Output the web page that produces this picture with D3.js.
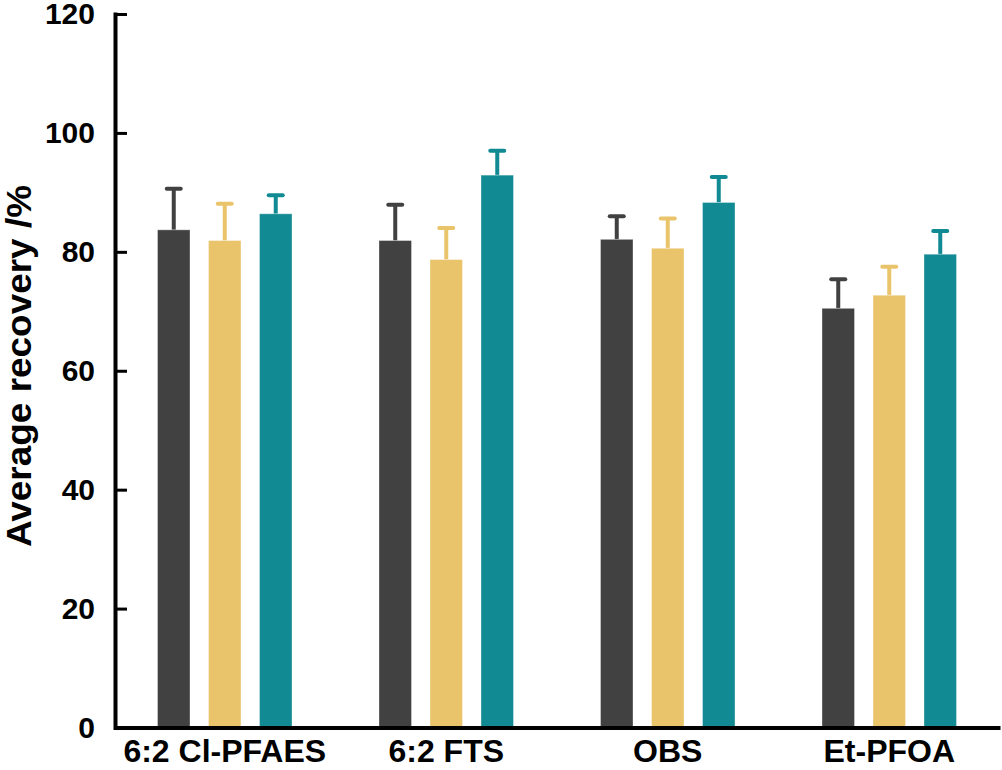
<!DOCTYPE html>
<html>
<head>
<meta charset="utf-8">
<script src="https://cdn.jsdelivr.net/npm/d3@7"></script>
<style>
  body { margin: 0; background: #fff; }
  text { font-family: "Liberation Sans", Arial, sans-serif; font-weight: bold; fill: #000; }
</style>
</head>
<body>
<div id="chart"></div>
<script>
const width = 1002;
const height = 770;

const compounds = ["6:2 Cl-PFAES", "6:2 FTS", "OBS", "Et-PFOA"];
const seriesNames = ["A", "B", "C"];
const seriesColors = ["#414141", "#E9C46B", "#118A93"];

// mean recovery per compound, one array per series
const meanA = [83.7, 81.9, 82.1, 70.5];
const meanB = [81.9, 78.7, 80.6, 72.7];
const meanC = [86.4, 92.9, 88.3, 79.6];
// error (upper) per compound
const errA = [6.9, 6.0, 3.9, 4.9];
const errB = [6.2, 5.3, 5.0, 4.8];
const errC = [3.1, 4.1, 4.3, 3.9];

const yTicks = [0, 20, 40, 60, 80, 100, 120];

const means = [meanA, meanB, meanC];
const errs = [errA, errB, errC];

const svg = d3
  .select("#chart")
  .append("svg")
  .attr("width", width)
  .attr("height", height);

const x = d3.scaleBand().domain(compounds).range([114, 1000]).padding(0);
const y = d3.scaleLinear().domain([0, 120]).range([727.5, 14]);

const barW = 32.5;
const barGap = 51;

// flatten for drawing
const bars = [];
compounds.forEach((c, i) => {
  seriesNames.forEach((s, j) => {
    bars.push({ compound: c, series: j, value: means[j][i], err: errs[j][i] });
  });
});

const barX = (d) => x(d.compound) + x.bandwidth() / 2 + (d.series - 1) * barGap;

// error bars (behind the bars)
const eb = svg.append("g").attr("class", "errors");
eb.selectAll("line.stem")
  .data(bars)
  .enter()
  .append("line")
  .attr("x1", barX)
  .attr("x2", barX)
  .attr("y1", (d) => y(d.value))
  .attr("y2", (d) => y(d.value + d.err))
  .attr("stroke", (d) => seriesColors[d.series])
  .attr("stroke-width", 4);

eb.selectAll("line.cap")
  .data(bars)
  .enter()
  .append("line")
  .attr("x1", (d) => barX(d) - 7)
  .attr("x2", (d) => barX(d) + 7)
  .attr("y1", (d) => y(d.value + d.err))
  .attr("y2", (d) => y(d.value + d.err))
  .attr("stroke", (d) => seriesColors[d.series])
  .attr("stroke-width", 4)
  .attr("stroke-linecap", "round");

svg.append("g")
  .selectAll("rect")
  .data(bars)
  .enter()
  .append("rect")
  .attr("x", (d) => barX(d) - barW / 2)
  .attr("y", (d) => y(d.value))
  .attr("width", barW)
  .attr("height", (d) => y(0) - y(d.value))
  .attr("fill", (d) => seriesColors[d.series])
  .attr("stroke", "rgba(255,255,255,0.35)")
  .attr("stroke-width", 1);

// y axis, ticks pointing inward
const yAxis = svg
  .append("g")
  .attr("transform", "translate(115,0)")
  .call(d3.axisLeft(y).tickValues(yTicks).tickSize(-12).tickSizeOuter(0).tickPadding(20));
yAxis.select(".domain").attr("stroke", "#000").attr("stroke-width", 4).attr("stroke-linecap", "square");
yAxis.selectAll(".tick line").attr("stroke", "#000").attr("stroke-width", 3);
yAxis.selectAll(".tick text").style("font-size", "30px");

// x axis
const xAxis = svg
  .append("g")
  .attr("transform", `translate(0,${y(0)})`)
  .call(d3.axisBottom(x).tickSize(0).tickSizeOuter(0).tickPadding(12));
xAxis.select(".domain").attr("stroke", "#000").attr("stroke-width", 4);
xAxis.selectAll(".tick text").style("font-size", "32px");

// y axis title
svg.append("text")
  .attr("transform", "translate(31,366) rotate(-90)")
  .attr("text-anchor", "middle")
  .style("font-size", "35px")
  .attr("textLength", 362)
  .attr("lengthAdjust", "spacingAndGlyphs")
  .text("Average recovery /%");
</script>
</body>
</html>
